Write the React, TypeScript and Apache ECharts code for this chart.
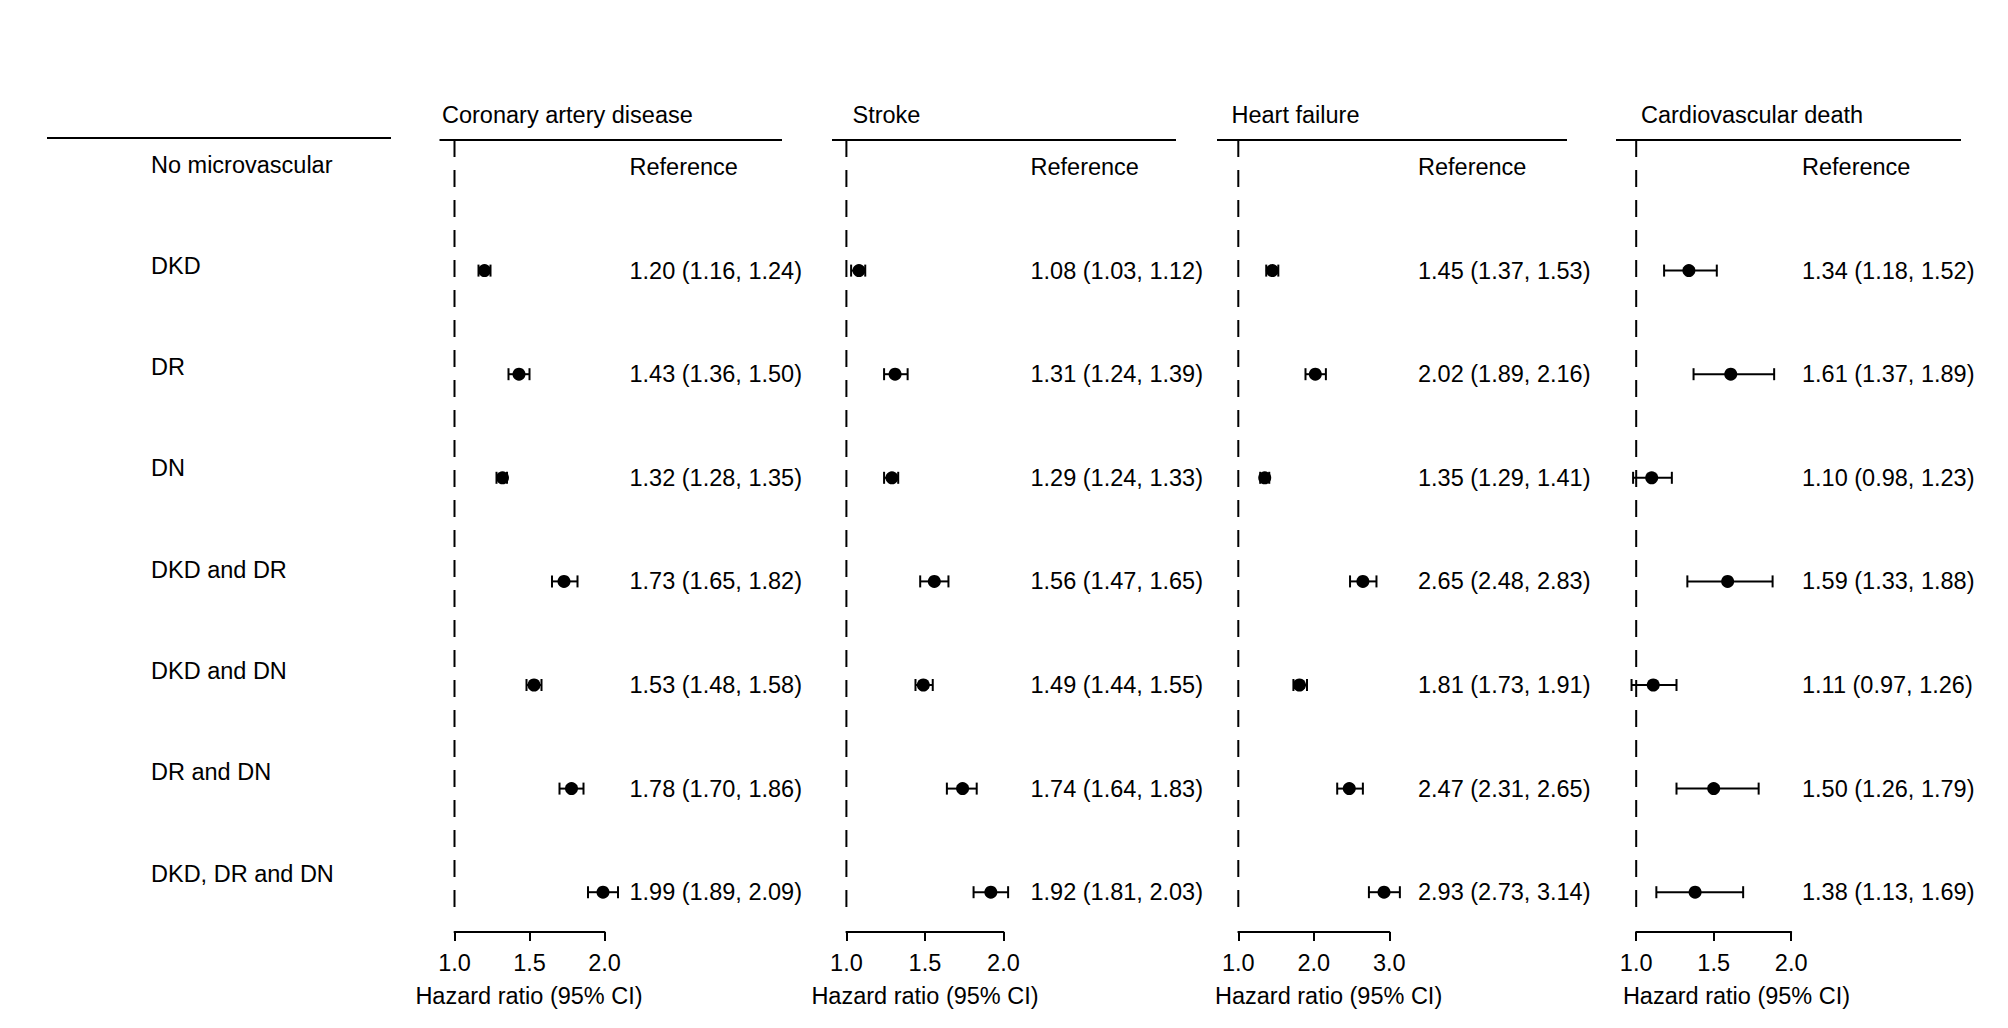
import React, { useEffect, useRef } from "react";
import * as echarts from "echarts";

// ---------- data ----------
const groups = [
  "No microvascular",
  "DKD",
  "DR",
  "DN",
  "DKD and DR",
  "DKD and DN",
  "DR and DN",
  "DKD, DR and DN",
];
const outcomes = ["Coronary artery disease", "Stroke", "Heart failure", "Cardiovascular death"];
const referenceLabel = "Reference";
const axisTitle = "Hazard ratio (95% CI)";

const cadHR = [1.2, 1.43, 1.32, 1.73, 1.53, 1.78, 1.99];
const cadLo = [1.16, 1.36, 1.28, 1.65, 1.48, 1.7, 1.89];
const cadHi = [1.24, 1.5, 1.35, 1.82, 1.58, 1.86, 2.09];

const strokeHR = [1.08, 1.31, 1.29, 1.56, 1.49, 1.74, 1.92];
const strokeLo = [1.03, 1.24, 1.24, 1.47, 1.44, 1.64, 1.81];
const strokeHi = [1.12, 1.39, 1.33, 1.65, 1.55, 1.83, 2.03];

const hfHR = [1.45, 2.02, 1.35, 2.65, 1.81, 2.47, 2.93];
const hfLo = [1.37, 1.89, 1.29, 2.48, 1.73, 2.31, 2.73];
const hfHi = [1.53, 2.16, 1.41, 2.83, 1.91, 2.65, 3.14];

const cvdHR = [1.34, 1.61, 1.1, 1.59, 1.11, 1.5, 1.38];
const cvdLo = [1.18, 1.37, 0.98, 1.33, 0.97, 1.26, 1.13];
const cvdHi = [1.52, 1.89, 1.23, 1.88, 1.26, 1.79, 1.69];

const axisMin = [1, 1, 1, 1];
const axisMax = [2, 2, 3, 2];
const axisStep = [0.5, 0.5, 1, 0.5];
const referenceHR = 1;

// ---------- layout (pixels) ----------
const FONT = "'Liberation Sans', Arial, sans-serif";
const FS = 23.5;
const gridLeft = [454.5, 846.4, 1238.3, 1636.2];
const gridWidth = [150, 157, 151, 155];
const gridTop = 140;
const gridHeight = 778;
const yMin = -0.2606;
const yMax = 7.249;
const textX = [629.5, 1030.5, 1418, 1802];
const titleX = [442, 852.5, 1231.5, 1641];
const titleY = 115;
const headerLines = [
  [439.5, 782],
  [832, 1176],
  [1217, 1567],
  [1616, 1961],
];
const headerY = 140;
const leftLine = [47, 391, 138];
const labelX = 151;
const labelY0 = 164.5;
const labelStep = 101.3;
const axisNameX = [529, 925, 1328.6, 1736.5];
const axisNameY = 996;

const panelData = [
  [cadHR, cadLo, cadHi],
  [strokeHR, strokeLo, strokeHi],
  [hfHR, hfLo, hfHi],
  [cvdHR, cvdLo, cvdHi],
];

const fmt = (v: number) => v.toFixed(2);

export default function App() {
  const ref = useRef<HTMLDivElement>(null);

  useEffect(() => {
    document.body.style.margin = "0";
    if (!ref.current) return;
    const chart = echarts.init(ref.current, null, { renderer: "svg" });

    const grids = panelData.map((_, i) => ({
      left: gridLeft[i],
      top: gridTop,
      width: gridWidth[i],
      height: gridHeight,
    }));

    const xAxes = panelData.map((_, i) => ({
      type: "value",
      gridIndex: i,
      min: axisMin[i],
      max: axisMax[i],
      interval: axisStep[i],
      position: "bottom",
      offset: 14,
      axisLine: { show: true, onZero: false, lineStyle: { color: "#000", width: 2 } },
      axisTick: { show: true, inside: false, length: 9, lineStyle: { color: "#000", width: 2 } },
      axisLabel: {
        show: true,
        margin: 19,
        color: "#000",
        fontSize: FS,
        fontFamily: FONT,
        showMinLabel: true,
        showMaxLabel: true,
        formatter: (v: number) => v.toFixed(1),
      },
      splitLine: { show: false },
    }));

    const yAxes = panelData.map((_, i) => ({
      type: "value",
      gridIndex: i,
      min: yMin,
      max: yMax,
      inverse: true,
      show: false,
    }));

    const series: any[] = [];
    panelData.forEach(([hr, lo, hi], i) => {
      series.push({
        type: "line",
        xAxisIndex: i,
        yAxisIndex: i,
        data: [
          [referenceHR, yMin],
          [referenceHR, yMax],
        ],
        symbol: "none",
        silent: true,
        lineStyle: { color: "#000", width: 2, type: [17, 13] },
      });

      const data: number[][] = [[referenceHR, referenceHR, referenceHR, 0]];
      const texts: string[] = [referenceLabel];
      hr.forEach((v, k) => {
        data.push([v, lo[k], hi[k], k + 1]);
        texts.push(`${fmt(v)} (${fmt(lo[k])}, ${fmt(hi[k])})`);
      });

      series.push({
        type: "custom",
        xAxisIndex: i,
        yAxisIndex: i,
        clip: false,
        silent: true,
        encode: { x: [0, 1, 2], y: 3 },
        data,
        renderItem: (params: any, api: any) => {
          const idx = params.dataIndex;
          const row = api.value(3);
          const c = api.coord([api.value(0), row]);
          const children: any[] = [
            {
              type: "text",
              style: {
                text: texts[idx],
                x: textX[i],
                y: c[1],
                fill: "#000",
                font: `${FS}px ${FONT}`,
                align: "left",
                verticalAlign: "middle",
              },
            },
          ];
          if (idx > 0) {
            const l = api.coord([api.value(1), row]);
            const h = api.coord([api.value(2), row]);
            const cap = 6;
            const st = { stroke: "#000", lineWidth: 2 };
            children.push({ type: "line", shape: { x1: l[0], y1: c[1], x2: h[0], y2: c[1] }, style: st });
            children.push({ type: "line", shape: { x1: l[0], y1: c[1] - cap, x2: l[0], y2: c[1] + cap }, style: st });
            children.push({ type: "line", shape: { x1: h[0], y1: c[1] - cap, x2: h[0], y2: c[1] + cap }, style: st });
            children.push({ type: "circle", shape: { cx: c[0], cy: c[1], r: 6.5 }, style: { fill: "#000" } });
          }
          return { type: "group", children };
        },
      });
    });

    const textEl = (text: string, x: number, y: number, align: string) => ({
      type: "text",
      x,
      y,
      silent: true,
      style: {
        text,
        font: `${FS}px ${FONT}`,
        fill: "#000",
        align,
        verticalAlign: "middle",
        textAlign: align,
        textVerticalAlign: "middle",
      },
    });

    const graphics: any[] = [];
    graphics.push({
      type: "line",
      silent: true,
      shape: { x1: leftLine[0], y1: leftLine[2], x2: leftLine[1], y2: leftLine[2] },
      style: { stroke: "#000", lineWidth: 2 },
    });
    groups.forEach((g, k) => graphics.push(textEl(g, labelX, labelY0 + labelStep * k, "left")));
    outcomes.forEach((o, i) => {
      graphics.push(textEl(o, titleX[i], titleY, "left"));
      graphics.push({
        type: "line",
        silent: true,
        shape: { x1: headerLines[i][0], y1: headerY, x2: headerLines[i][1], y2: headerY },
        style: { stroke: "#000", lineWidth: 2 },
      });
      graphics.push(textEl(axisTitle, axisNameX[i], axisNameY, "center"));
    });

    chart.setOption({
      animation: false,
      backgroundColor: "#fff",
      grid: grids,
      xAxis: xAxes,
      yAxis: yAxes,
      series,
      graphic: graphics,
    });

    return () => chart.dispose();
  }, []);

  return <div ref={ref} style={{ width: 2008, height: 1028 }} />;
}
